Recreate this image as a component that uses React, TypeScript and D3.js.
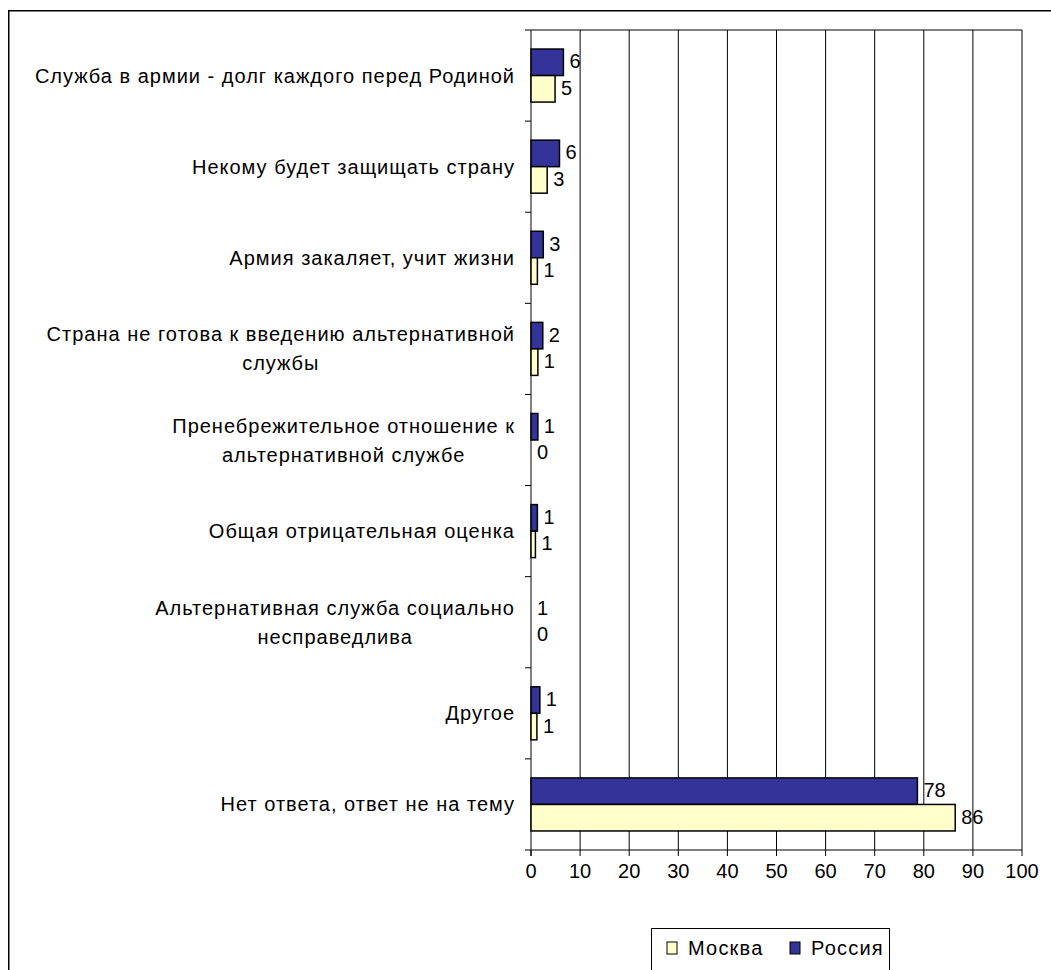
import React from "react";
import * as d3 from "d3";

const categories: string[][] = [
  ["Служба в армии - долг каждого перед Родиной"],
  ["Некому будет защищать страну"],
  ["Армия закаляет, учит жизни"],
  ["Страна не готова к введению альтернативной", "службы"],
  ["Пренебрежительное отношение к", "альтернативной службе"],
  ["Общая отрицательная оценка"],
  ["Альтернативная служба социально", "несправедлива"],
  ["Другое"],
  ["Нет ответа, ответ не на тему"],
];

const russiaValues = [6.6, 5.8, 2.5, 2.4, 1.4, 1.3, 0, 1.8, 78.7];
const moscowValues = [4.9, 3.3, 1.3, 1.4, 0, 0.9, 0, 1.2, 86.4];
const russiaLabels = ["6", "6", "3", "2", "1", "1", "1", "1", "78"];
const moscowLabels = ["5", "3", "1", "1", "0", "1", "0", "1", "86"];

const xTicks = [0, 10, 20, 30, 40, 50, 60, 70, 80, 90, 100];
const seriesNames = ["Россия", "Москва"];
const legendNames = ["Москва", "Россия"];
const colors: Record<string, string> = { "Россия": "#333399", "Москва": "#FFFFCC" };

const FONT = "'Liberation Sans', Arial, sans-serif";
const FS = 20;
const LS = 1.0;

let ctx: CanvasRenderingContext2D | null = null;
function measure(s: string): number {
  if (!ctx) ctx = document.createElement("canvas").getContext("2d");
  if (!ctx) return s.length * FS * 0.5;
  ctx.font = `${FS}px 'Liberation Sans', Arial, sans-serif`;
  return ctx.measureText(s).width + s.length * LS;
}

export default function App() {
  const left = 531, right = 1022, top = 30, bottom = 850;
  const x = d3.scaleLinear().domain([0, 100]).range([left, right]);
  const ids = categories.map((_, i) => String(i));
  const y = d3.scaleBand<string>().domain(ids).range([top, bottom]).paddingInner(0.418).paddingOuter(0.209);
  const step = (bottom - top) / categories.length;
  const inner = d3.scaleBand<string>().domain(seriesNames).range([0, y.bandwidth()]);
  const seriesData: Record<string, { v: number[]; l: string[] }> = {
    "Россия": { v: russiaValues, l: russiaLabels },
    "Москва": { v: moscowValues, l: moscowLabels },
  };
  const lineH = 29;
  const labelRight = 515;

  return (
    <svg width={1051} height={970} style={{ position: "absolute", left: 0, top: 0, display: "block" }} fontFamily={FONT}>
      <rect x={0} y={0} width={1051} height={970} fill="#fff" />
      {/* outer frame */}
      <path d="M8.75,1000 V10.75 H1100" fill="none" stroke="#000" strokeWidth={1.5} />
      {/* gridlines */}
      {xTicks.filter((t) => t > 0).map((t) => (
        <line key={"g" + t} x1={x(t)} x2={x(t)} y1={top} y2={bottom} stroke="#000" strokeWidth={1} />
      ))}
      <line x1={left} x2={right} y1={top} y2={top} stroke="#000" strokeWidth={1} />
      {/* y axis */}
      <line x1={left} x2={left} y1={top} y2={bottom + 6} stroke="#000" strokeWidth={1} />
      {d3.range(categories.length + 1).map((i) => (
        <line key={"yt" + i} x1={left - 6} x2={left} y1={top + i * step} y2={top + i * step} stroke="#000" />
      ))}
      {/* x axis */}
      <line x1={left} x2={right} y1={bottom} y2={bottom} stroke="#000" />
      {xTicks.map((t) => (
        <g key={"xt" + t}>
          <line x1={x(t)} x2={x(t)} y1={bottom} y2={bottom + 6} stroke="#000" />
          <text x={x(t)} y={bottom + 21} textAnchor="middle" dominantBaseline="central" fontSize={FS}>{t}</text>
        </g>
      ))}
      {/* bars */}
      {ids.map((id, i) => (
        <g key={"b" + id}>
          {seriesNames.map((s) => {
            const v = seriesData[s].v[i];
            const by = (y(id) as number) + (inner(s) as number);
            const bh = inner.bandwidth();
            return (
              <g key={s}>
                {v > 0 && (
                  <rect x={x(0)} y={by} width={x(v) - x(0)} height={bh} fill={colors[s]} stroke="#000" strokeWidth={1.5} />
                )}
                <text x={x(v) + 6} y={by + bh / 2 - 1} dominantBaseline="central" fontSize={FS}>{seriesData[s].l[i]}</text>
              </g>
            );
          })}
        </g>
      ))}
      {/* category labels */}
      {categories.map((lines, i) => {
        const cy = top + (i + 0.5) * step;
        const y0 = cy - ((lines.length - 1) * lineH) / 2;
        const w0 = measure(lines[0]);
        return (
          <text key={"c" + i} fontSize={FS} dominantBaseline="central" letterSpacing={LS}>
            {lines.map((ln, j) => (
              <tspan key={j} x={j === 0 ? labelRight : labelRight - w0 / 2} y={y0 + j * lineH}
                textAnchor={j === 0 ? "end" : "middle"}>{ln}</tspan>
            ))}
          </text>
        );
      })}
      {/* legend */}
      <rect x={651.5} y={928.5} width={238} height={60} fill="#fff" stroke="#000" strokeWidth={1} />
      {legendNames.map((s, i) => {
        const lx = i === 0 ? 667 : 790;
        return (
          <g key={"l" + s}>
            <rect x={lx} y={942} width={10} height={12} fill={colors[s]} stroke="#000" strokeWidth={1} />
            <text x={lx + 21} y={948} dominantBaseline="central" fontSize={FS} letterSpacing={1.2}>{s}</text>
          </g>
        );
      })}
    </svg>
  );
}
